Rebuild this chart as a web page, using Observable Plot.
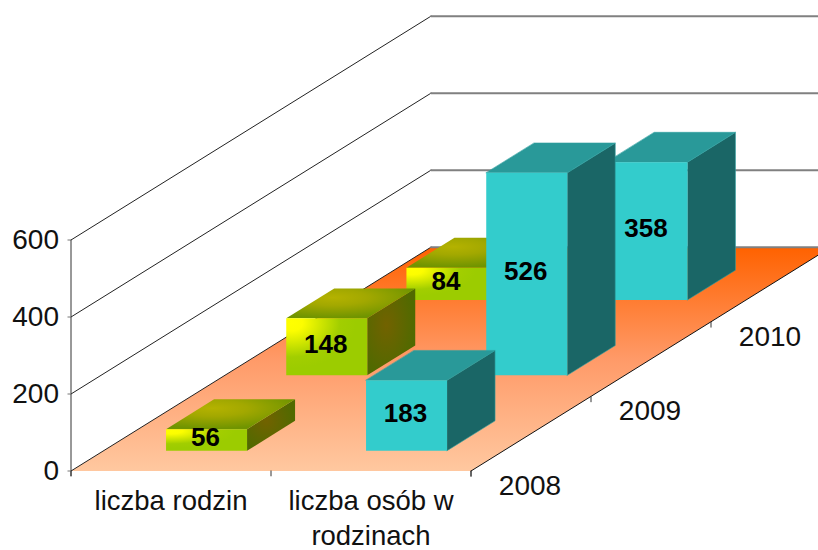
<!DOCTYPE html>
<html>
<head>
<meta charset="utf-8">
<script src="https://cdn.jsdelivr.net/npm/d3@7"></script>
<script src="https://cdn.jsdelivr.net/npm/@observablehq/plot@0.6"></script>
<style>html,body{margin:0;padding:0;background:#fff;overflow:hidden}</style>
</head>
<body>
<div id="chart"></div>
<script>
const categories = ["liczba rodzin", "liczba osób w\nrodzinach"];
const years = ["2008", "2009", "2010"];
const liczbaRodzin = [56, 148, 84];
const liczbaOsob = [183, 526, 358];
const yTicks = [0, 200, 400, 600];

// oblique projection: one year step moves the point right and up on the two scales
const skewX = 0.6, skewY = 193.8;
const barWidth = 0.405, barDepth = 0.4, catInset = 0.312, yearInset = 0.272;
const yearStep = 1.01, catDrift = 0.005;
const P = (c, s, v) => ({x: c + skewX * s, y: v + skewY * s});
const nYears = years.length, nCats = categories.length;

const styles = [
  {front: "url(#gFront)", top: "url(#gTop)", side: "url(#gSide)", edge: "none"},
  {front: "#33cccc", top: "#299999", side: "#1a6666", edge: "#2f9f9f"}
];
const poly = (pts, fill, stroke = "none") =>
  Plot.line(pts, {x: "x", y: "y", fill, stroke, strokeWidth: 0.6, curve: "linear-closed"});

const series = [liczbaRodzin, liczbaOsob];
const barMarks = [];
const labels = [];
for (let s = nYears - 1; s >= 0; --s) {
  for (let c = 0; c < nCats; ++c) {
    const v = series[c][s], st = styles[c];
    const c0 = c + catInset - catDrift * s, c1 = c0 + barWidth;
    const s0 = s * yearStep + yearInset, s1 = s0 + barDepth;
    barMarks.push(
      poly([P(c1, s0, 0), P(c1, s1, 0), P(c1, s1, v), P(c1, s0, v)], st.side, st.edge),
      poly([P(c0, s0, v), P(c1, s0, v), P(c1, s1, v), P(c0, s1, v)], st.top, st.edge),
      poly([P(c0, s0, 0), P(c1, s0, 0), P(c1, s0, v), P(c0, s0, v)], st.front)
    );
    labels.push({...P((c0 + c1) / 2, s0, v / 2), t: String(v)});
  }
}

const gradients = () => {
  const defs = d3.create("svg:defs");
  const add = (type, id, attrs, stops) => {
    const g = defs.append(type).attr("id", id);
    for (const k in attrs) g.attr(k, attrs[k]);
    stops.forEach(([o, col]) => g.append("stop").attr("offset", o).attr("stop-color", col));
  };
  add("linearGradient", "gFloor", {x1: 0, y1: 0, x2: 0, y2: 1}, [[0, "#ff6200"], [0.5, "#ff9a68"], [1, "#ffc8a0"]]);
  add("radialGradient", "gFront", {cx: 0.06, cy: 0.08, r: 0.8}, [[0, "#ffff00"], [0.18, "#fcfd00"], [0.75, "#a2ce00"], [1, "#9ccc00"]]);
  add("radialGradient", "gTop", {cx: 0.36, cy: 0.3, r: 0.68}, [[0, "#b4b200"], [0.4, "#a2a800"], [1, "#709400"]]);
  add("radialGradient", "gSide", {cx: 0.4, cy: 0.42, r: 0.6}, [[0, "#726200"], [1, "#506a00"]]);
  return defs.node();
};

const back = nYears;
const lines = yTicks.flatMap((t) => [
  Plot.line([P(0, 0, t), P(0, back, t)], {x: "x", y: "y", stroke: "#222", strokeWidth: 1}),
  Plot.line([P(0, back, t), P(nCats, back, t)], {x: "x", y: "y", stroke: "#808080", strokeWidth: 2})
]);

const chart = Plot.plot({
  width: 818,
  height: 550,
  marginLeft: 70.5,
  marginRight: 347.5,
  marginTop: 239.5,
  marginBottom: 79.5,
  style: {background: "#fff", fontFamily: "'Liberation Sans', Arial, sans-serif", overflow: "hidden"},
  x: {domain: [0, nCats], axis: null},
  y: {domain: [0, 600], axis: null},
  marks: [
    gradients,
    poly([P(0, 0, 0), P(nCats, 0, 0), P(nCats, back, 0), P(0, back, 0)], "url(#gFloor)"),
    ...lines,
    Plot.line([P(nCats, 0, 0), P(nCats, back, 0)], {x: "x", y: "y", stroke: "#111", strokeWidth: 1}),
    Plot.ruleX([0], {y1: -15, y2: 600, stroke: "#333", strokeWidth: 1}),
    Plot.ruleX(d3.range(nCats + 1), {y1: -15, y2: 0, stroke: "#333", strokeWidth: 1}),
    Plot.link(d3.range(nYears), {
      x1: (s) => P(nCats, s, 0).x, x2: (s) => P(nCats, s, 0).x,
      y1: (s) => P(nCats, s, 0).y - 15, y2: (s) => P(nCats, s, 0).y,
      stroke: "#333", strokeWidth: 1
    }),
    Plot.axisY({anchor: "left", ticks: yTicks, tickSize: 3, tickPadding: 9, fontSize: 28, stroke: "#777", color: "#111", label: null}),
    Plot.text(categories, {
      x: (d, i) => i + 0.5, y: 0, text: (d) => d, dy: 15, lineAnchor: "top", lineHeight: 1.25,
      fontSize: 27.5, fill: "#111"
    }),
    Plot.text(years, {
      x: (d, s) => P(nCats, s, 0).x, y: (d, s) => P(nCats, s, 0).y, text: (d) => d,
      dx: 59, dy: 15, fontSize: 28, fill: "#111"
    }),
    ...barMarks,
    Plot.text(labels, {x: "x", y: "y", text: "t", dx: -1, dy: -2, fontSize: 26, fontWeight: "bold", fill: "#000"})
  ]
});
document.getElementById("chart").appendChild(chart);
</script>
</body>
</html>
